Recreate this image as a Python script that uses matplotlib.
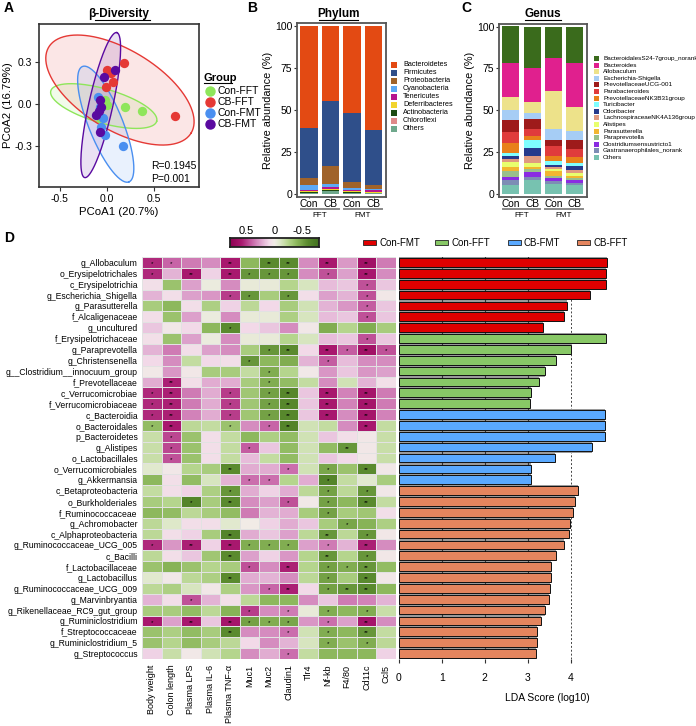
import numpy as np
import matplotlib
matplotlib.use("Agg")
import matplotlib.pyplot as plt
from matplotlib.colors import LinearSegmentedColormap
from matplotlib.patches import Rectangle
from matplotlib.lines import Line2D
import matplotlib.transforms as mtransforms

plt.rcParams['font.family'] = ['Liberation Sans', 'DejaVu Sans']

# ---------------- data ----------------
# A: PCoA
groups = ["Con-FFT", "CB-FFT", "Con-FMT", "CB-FMT"]
group_colors = ["#8EE65A", "#E53935", "#4A8FF0", "#5A0AA0"]
pc1 = [
    [0.37, 0.19, -0.02, -0.07, 0.0],
    [0.72, 0.18, 0.0, 0.07, -0.01, 0.05],
    [0.17, -0.09, -0.06, -0.02, -0.07, -0.04],
    [0.085, -0.03, -0.07, -0.11, -0.075, -0.08, -0.06],
]
pc2 = [
    [-0.05, -0.02, 0.03, -0.09, -0.01],
    [-0.086, 0.29, 0.24, 0.16, 0.12, 0.22],
    [-0.30, 0.05, -0.16, -0.22, -0.02, -0.10],
    [0.24, 0.19, 0.03, -0.08, -0.20, -0.05, -0.02],
]
# ellipse: centre (data), semi axes (px), angle (deg)
ell_cx = [-0.032, 0.14, -0.011, -0.064]
ell_cy = [-0.014, 0.10, -0.143, -0.007]
ell_a = [55, 83, 62, 74]
ell_b = [17, 40, 17, 12]
ell_ang = [-16, -31, -68, 77.5]

# B: phylum (top to bottom of legend)
samples = ["Con", "CB", "Con", "CB"]
phyla = ["Bacteroidetes", "Firmicutes", "Proteobacteria", "Cyanobacteria", "Tenericutes",
         "Deferribacteres", "Actinobacteria", "Chloroflexi", "Others"]
phyla_colors = ["#E34A13", "#2F4F8A", "#A0632A", "#5CA8F5", "#B5158F",
                "#F2D42E", "#1E4A12", "#E08A8A", "#6FA88C"]
phyla_vals = [
    [61.0, 44.9, 52.0, 62.3],
    [29.3, 38.5, 40.6, 32.1],
    [4.5, 10.5, 4.0, 2.5],
    [2.6, 2.2, 0.8, 0.8],
    [0.8, 1.2, 0.9, 0.9],
    [0.8, 0.5, 0.8, 0.6],
    [0.3, 0.4, 0.2, 0.2],
    [0.2, 0.3, 0.2, 0.2],
    [0.5, 1.5, 0.5, 0.4],
]

# C: genus
genera = ["BacteroidalesS24-7group_norank", "Bacteroides", "Allobaculum", "Escherichia-Shigella",
          "PrevotellaceaeUCG-001", "Parabacteroides", "PrevotellaceaeNK3B31group", "Turicibacter",
          "Odoribacter", "LachnospiraceaeNK4A136group", "Alistipes", "Parasutterella",
          "Paraprevotella", "Clostridiumsensustricto1", "Gastranaerophilales_norank", "Others"]
genera_colors = ["#3A6B1C", "#E0208E", "#EDE28A", "#A6CDF5", "#9E1B1B", "#E03C3C", "#E8801A",
                 "#7FFFFF", "#263A8C", "#E09A80", "#E8FF6E", "#F2B630", "#99BF8C", "#8A2BE2",
                 "#7D8DB5", "#77C2B0"]
genera_vals = [
    [21.7, 24.6, 19.1, 21.7],
    [20.2, 20.7, 19.3, 26.5],
    [8.3, 6.5, 22.6, 14.2],
    [5.9, 3.3, 6.5, 5.1],
    [6.9, 5.9, 3.8, 5.7],
    [6.9, 4.6, 5.9, 4.9],
    [5.5, 2.3, 2.9, 3.2],
    [2.0, 4.5, 2.4, 1.8],
    [2.0, 5.0, 1.6, 2.7],
    [1.6, 4.3, 1.1, 1.4],
    [2.8, 2.4, 1.0, 2.0],
    [2.3, 1.1, 3.0, 1.2],
    [3.6, 1.6, 1.4, 1.1],
    [2.3, 2.8, 1.9, 2.0],
    [2.6, 2.3, 1.4, 1.0],
    [5.5, 8.1, 6.1, 5.5],
]

# D: correlation heatmap
taxa = ["g_Allobaculum", "o_Erysipelotrichales", "c_Erysipelotrichia", "g_Escherichia_Shigella",
        "g_Parasutterella", "f_Alcaligenaceae", "g_uncultured", "f_Erysipelotrichaceae",
        "g_Paraprevotella", "g_Christensenella", "g__Clostridium__innocuum_group",
        "f_Prevotellaceae", "c_Verrucomicrobiae", "f_Verrucomicrobiaceae", "c_Bacteroidia",
        "o_Bacteroidales", "p_Bacteroidetes", "g_Alistipes", "o_Lactobacillales",
        "o_Verrucomicrobiales", "g_Akkermansia", "c_Betaproteobacteria", "o_Burkholderiales",
        "f_Ruminococcaceae", "g_Achromobacter", "c_Alphaproteobacteria",
        "g_Ruminococcaceae_UCG_005", "c_Bacilli", "f_Lactobacillaceae", "g_Lactobacillus",
        "g_Ruminococcaceae_UCG_009", "g_Marvinbryantia", "g_Rikenellaceae_RC9_gut_group",
        "g_Ruminiclostridium", "f_Streptococcaceae", "g_Ruminiclostridium_5", "g_Streptococcus"]
factors = ["Body weight", "Colon length", "Plasma LPS", "Plasma IL-6", "Plasma TNF-α", "Muc1",
           "Muc2", "Claudin1", "Tlr4", "Nf-kb", "F4/80", "Cd11c", "Ccl5"]
corr = [
    [0.55, 0.4, 0.35, 0.3, 0.6, -0.4, -0.6, -0.6, 0.3, 0.6, 0.27, 0.65, 0.35],
    [0.55, 0.2, 0.6, 0.12, 0.6, -0.55, -0.55, -0.55, 0.3, 0.45, 0.25, 0.6, 0.3],
    [0.07, -0.35, 0.25, -0.03, 0.3, -0.05, -0.05, -0.25, -0.12, 0.18, 0.15, 0.45, 0.15],
    [0.2, 0.08, 0.25, 0.28, 0.5, -0.55, -0.3, -0.55, 0.08, 0.25, 0.2, 0.45, 0.03],
    [-0.3, -0.4, 0.08, -0.28, 0.12, -0.22, 0.1, -0.3, -0.15, 0.2, 0.28, 0.42, 0.15],
    [0.08, -0.35, 0.25, -0.03, 0.3, -0.05, -0.05, -0.28, -0.12, 0.18, 0.15, 0.45, 0.15],
    [0.15, 0.03, 0.1, -0.4, -0.6, 0.1, 0.15, 0.3, 0.03, -0.45, -0.25, -0.45, -0.3],
    [0.07, -0.35, 0.25, -0.03, 0.3, -0.05, -0.05, -0.25, -0.12, 0.18, 0.15, 0.45, 0.15],
    [0.2, 0.35, 0.08, 0.25, 0.3, -0.3, -0.55, -0.6, 0.1, 0.6, 0.42, 0.65, 0.45],
    [0.1, 0.3, -0.2, 0.1, 0.08, -0.55, -0.4, -0.45, 0.2, 0.42, 0.18, 0.3, 0.3],
    [0.02, 0.28, 0.03, -0.3, -0.3, -0.2, -0.45, -0.25, 0.02, 0.28, 0.15, 0.28, 0.25],
    [0.22, 0.58, 0.08, 0.22, 0.22, -0.3, -0.45, -0.38, -0.2, 0.3, -0.15, 0.2, 0.07],
    [0.55, 0.58, 0.35, 0.22, 0.5, -0.33, -0.5, -0.62, 0.15, 0.6, 0.33, 0.62, 0.35],
    [0.55, 0.58, 0.35, 0.22, 0.5, -0.33, -0.5, -0.62, 0.15, 0.6, 0.33, 0.62, 0.35],
    [0.55, 0.58, 0.33, 0.22, 0.5, -0.33, -0.5, -0.62, 0.15, 0.6, 0.3, 0.62, 0.33],
    [-0.38, 0.6, -0.22, -0.2, -0.35, 0.3, 0.4, -0.65, -0.15, -0.2, 0.3, 0.6, -0.2],
    [-0.18, 0.48, -0.35, 0.08, -0.2, -0.4, -0.28, -0.38, -0.15, 0.15, 0.08, 0.03, -0.18],
    [-0.18, 0.48, -0.35, 0.08, -0.2, 0.42, 0.15, -0.38, -0.15, -0.38, -0.55, 0.03, -0.18],
    [-0.18, 0.45, -0.35, 0.08, -0.2, 0.18, -0.2, -0.38, -0.15, 0.15, 0.1, 0.03, -0.18],
    [-0.08, 0.03, -0.25, -0.3, -0.6, 0.22, 0.22, 0.38, -0.15, -0.48, -0.35, -0.6, 0.03],
    [-0.4, 0.07, -0.38, -0.12, 0.2, 0.38, 0.38, -0.25, 0.22, -0.65, -0.2, -0.08, -0.3],
    [-0.2, 0.08, 0.12, -0.28, -0.55, 0.22, 0.12, 0.22, -0.22, -0.5, -0.22, -0.55, 0.03],
    [-0.3, -0.25, -0.65, -0.3, -0.6, 0.3, 0.25, 0.45, 0.02, -0.5, -0.4, -0.6, -0.2],
    [-0.4, -0.38, -0.22, -0.3, -0.38, 0.35, 0.2, 0.22, -0.3, -0.5, -0.3, -0.33, 0.08],
    [-0.22, -0.1, 0.08, 0.08, -0.08, 0.0, 0.12, 0.22, 0.15, -0.3, -0.48, -0.42, -0.28],
    [-0.22, 0.08, 0.12, -0.3, -0.65, 0.22, 0.15, 0.25, -0.22, -0.55, -0.22, -0.55, 0.03],
    [0.55, 0.28, 0.58, 0.12, 0.6, -0.45, -0.45, -0.45, 0.25, 0.35, 0.2, 0.58, 0.3],
    [-0.22, 0.08, 0.15, -0.33, -0.6, 0.25, 0.12, 0.28, -0.25, -0.55, -0.25, -0.55, 0.03],
    [-0.35, -0.42, -0.35, -0.25, -0.3, 0.45, 0.3, 0.58, -0.25, -0.5, -0.45, -0.55, -0.38],
    [-0.08, 0.02, -0.22, -0.28, -0.6, 0.22, 0.2, 0.3, -0.22, -0.5, -0.3, -0.6, 0.03],
    [-0.22, -0.28, -0.12, 0.03, -0.28, 0.28, 0.4, 0.58, 0.1, -0.5, -0.55, -0.6, -0.4],
    [0.2, 0.08, 0.45, 0.2, 0.07, -0.22, -0.4, -0.4, 0.3, 0.15, 0.35, 0.33, 0.2],
    [-0.3, -0.3, -0.38, -0.22, -0.42, 0.5, 0.3, 0.35, -0.05, -0.45, -0.4, -0.45, -0.18],
    [0.6, 0.25, 0.6, 0.15, 0.62, -0.5, -0.45, -0.48, 0.28, 0.38, 0.25, 0.62, 0.3],
    [-0.35, -0.28, -0.38, -0.3, -0.6, 0.3, 0.3, 0.38, -0.15, -0.45, -0.4, -0.55, -0.2],
    [-0.35, -0.25, -0.38, -0.3, -0.22, 0.1, 0.3, 0.2, -0.12, -0.45, -0.35, -0.45, -0.22],
    [0.12, -0.18, 0.02, -0.15, -0.25, 0.3, 0.22, 0.38, -0.2, -0.4, -0.4, -0.4, 0.12],
]
# significance: 0 none, 1 "*", 2 "**"
signif = ["1100202202020", "1020211101020", "0000000000010", "0000110100010",
          "0000000000010", "0000000000010", "0000100000000", "0000000000010",
          "0000001202121", "0000010001000", "0000001000000", "0200001000000",
          "1200101202020", "1200101202020", "1200101202020", "1200101200020",
          "0100000000000", "0100010000200", "0100000000000", "0000200101020",
          "0000011001000", "0000100001010", "0010200101020", "0000000001000",
          "0000000000100", "0000200002010", "1020211101020", "0000200002010",
          "0000010201120", "0000200001020", "0000001201220", "0010000000000",
          "0000010101010", "1020211101020", "0000200101020", "0000000001010",
          "0000000100000"]

# LDA
lda_groups = ["Con-FMT", "Con-FFT", "CB-FMT", "CB-FFT"]
lda_colors = ["#E00000", "#88C866", "#5AA9FF", "#E5855E"]
lda_group = [0] * 7 + [1] * 7 + [2] * 7 + [3] * 16
lda_score = [4.84, 4.83, 4.83, 4.44, 3.91, 3.84, 3.36,
             4.83, 4.01, 3.66, 3.41, 3.26, 3.08, 3.05,
             4.80, 4.80, 4.80, 4.50, 3.64, 3.08, 3.07,
             4.16, 4.10, 4.06, 3.98, 3.97, 3.85, 3.66, 3.55, 3.55, 3.53, 3.50,
             3.41, 3.31, 3.22, 3.21, 3.20]

# ---------------- figure ----------------
W, H = 696, 726
fig = plt.figure(figsize=(W / 100, H / 100), dpi=100)


def px_axes(l, t, r, b):
    return fig.add_axes([l / W, 1 - b / H, (r - l) / W, (b - t) / H])


def ftext(x, y, s, **kw):
    fig.text(x / W, 1 - y / H, s, **kw)


def fline(x0, x1, y, **kw):
    fig.add_artist(Line2D([x0 / W, x1 / W], [1 - y / H, 1 - y / H], **kw))


def frect(x, y, w, h, **kw):
    fig.add_artist(Rectangle((x / W, 1 - (y + h) / H), w / W, h / H, **kw))


def frame(ax, color="#333333", lw=1.2):
    for s in ax.spines.values():
        s.set_color(color)
        s.set_linewidth(lw)


# ---- Panel A ----
axA = px_axes(39, 24, 199, 187)
t = np.linspace(0, 2 * np.pi, 200)
for k in range(4):
    th = np.deg2rad(ell_ang[k])
    ex = ell_cx[k] + (ell_a[k] * np.cos(th) * np.cos(t) - ell_b[k] * np.sin(th) * np.sin(t)) / 94
    ey = ell_cy[k] + (ell_a[k] * np.sin(th) * np.cos(t) + ell_b[k] * np.cos(th) * np.sin(t)) / 140
    axA.fill(ex, ey, color=group_colors[k], alpha=0.12, lw=0)
    axA.plot(ex, ey, color=group_colors[k], lw=1.0)
for k in range(4):
    axA.scatter(pc1[k], pc2[k], s=45, color=group_colors[k], zorder=3, lw=0)
axA.set_xlim(-0.72, 0.98)
axA.set_ylim(-0.59, 0.57)
axA.set_xticks([-0.5, 0, 0.5], ["-0.5", "0.0", "0.5"])
axA.set_yticks([-0.3, 0, 0.3], ["-0.3", "0.0", "0.3"])
axA.tick_params(labelsize=7.5, length=3, color="#333333", pad=2)
axA.set_xlabel("PCoA1 (20.7%)", fontsize=8.2, labelpad=2)
axA.set_ylabel("PCoA2 (16.79%)", fontsize=8.2)
axA.yaxis.set_label_coords(-0.165, 0.5)
frame(axA)
axA.text(0.47, -0.44, "R=0.1945", fontsize=7.5, va="center")
axA.text(0.47, -0.53, "P=0.001", fontsize=7.5, va="center")
ftext(119, 14, "β-Diversity", fontsize=8.5, fontweight="bold", ha="center", va="center")
fline(95, 150, 19.5, color="black", lw=0.8)
ftext(204, 78, "Group", fontsize=8, fontweight="bold", va="center")
fline(204, 232, 83, color="black", lw=0.8)
for k, g in enumerate(groups):
    yy = 91 + k * 11
    fig.add_artist(Line2D([210 / W], [1 - yy / H], marker="o", ms=6.5, color=group_colors[k], lw=0))
    ftext(217, yy, g, fontsize=7.5, va="center")


# ---- Panels B and C ----
def stacked(ax, vals, colors):
    x = np.arange(1, 5)
    bottom = np.zeros(4)
    for v, c in zip(vals[::-1], colors[::-1]):
        ax.bar(x, v, bottom=bottom, width=0.8, color=c, lw=0)
        bottom += np.array(v)
    ax.set_xlim(0.44, 4.58)
    ax.set_ylim(-1.8, 101.5)
    ax.set_yticks([0, 25, 50, 75, 100])
    ax.set_xticks(x, samples)
    ax.tick_params(axis="y", labelsize=7.5, length=2.5, color="#333333", pad=1)
    ax.tick_params(axis="x", labelsize=7.3, length=1, color="#333333", pad=0.5)
    ax.set_ylabel("Relative abundance (%)", fontsize=7.8, labelpad=1)
    frame(ax, "#555555", 1.3)
    tr = mtransforms.blended_transform_factory(ax.transData, ax.transAxes)
    for x0, x1, name in [(0.62, 2.38, "FFT"), (2.62, 4.38, "FMT")]:
        ax.plot([x0, x1], [-0.068, -0.068], color="#888888", lw=1.4, transform=tr, clip_on=False)
        ax.text((x0 + x1) / 2, -0.105, name, fontsize=5.8, ha="center", va="center", transform=tr)


axB = px_axes(297, 23, 386, 197)
stacked(axB, phyla_vals, phyla_colors)
ftext(338, 14, "Phylum", fontsize=8.5, fontweight="bold", ha="center", va="center")
fline(319, 358, 19.5, color="black", lw=0.8)
for k, name in enumerate(phyla):
    yy = 65 + k * 8.0
    frect(391, yy - 2.7, 5.5, 5.5, color=phyla_colors[k], lw=0)
    ftext(403, yy, name, fontsize=5.2, va="center")

axC = px_axes(499, 24, 587, 197)
stacked(axC, genera_vals, genera_colors)
ftext(543, 14, "Genus", fontsize=8.5, fontweight="bold", ha="center", va="center")
fline(525, 561, 19.5, color="black", lw=0.8)
for k, name in enumerate(genera):
    yy = 58.5 + k * 6.6
    frect(594, yy - 2.5, 5, 5, color=genera_colors[k], lw=0)
    ftext(603, yy, name, fontsize=4.6, va="center")

# ---- Panel D heatmap ----
cmap = LinearSegmentedColormap.from_list("corr", [
    (0.0, "#40701E"), (0.125, "#5A8A2E"), (0.25, "#8DB85C"), (0.344, "#B5D58C"),
    (0.4375, "#DDE8C8"), (0.5, "#F1ECE6"), (0.5625, "#F2DAE9"), (0.656, "#DDA2CC"),
    (0.75, "#C866A8"), (0.875, "#A8186E"), (1.0, "#8E0152")])
axH = px_axes(142, 257, 396, 659)
axH.pcolormesh(np.array(corr), cmap=cmap, vmin=-0.8, vmax=0.8,
               edgecolors="#e2e2e2", linewidth=0.6)
axH.set_xlim(0, len(factors))
axH.set_ylim(len(taxa), 0)
axH.set_yticks(np.arange(len(taxa)) + 0.5, taxa)
axH.set_xticks(np.arange(len(factors)) + 0.5, factors, rotation=90)
axH.tick_params(length=0, labelsize=6.2, pad=3)
axH.tick_params(axis="x", labelsize=6.5, pad=4)
for s in axH.spines.values():
    s.set_visible(False)
for i, row in enumerate(signif):
    for j, c in enumerate(row):
        if c != "0":
            axH.text(j + 0.5, i + 0.6, "*" * int(c), fontsize=4.5, ha="center", va="center")

# colorbar
axCb = px_axes(230, 238, 319, 247)
xs = np.linspace(-0.8, 0.8, 257)
axCb.pcolormesh(xs, [0, 1], ((xs[:-1] + xs[1:]) / 2)[None, :], cmap=cmap, vmin=-0.8, vmax=0.8)
axCb.set_xlim(0.8, -0.8)
axCb.set_yticks([])
axCb.xaxis.tick_top()
axCb.set_xticks([0.5, 0, -0.5], ["0.5", "0", "-0.5"])
axCb.tick_params(length=0, labelsize=8, pad=1.5)
frame(axCb, "#222222", 1.3)

# ---- LDA ----
axL = px_axes(398, 257, 696, 659)
yl = np.arange(len(lda_score)) + 0.5
bar_cols = [lda_colors[g] for g in lda_group]
axL.barh(yl, lda_score, height=1.0, color="#9a9a9a", lw=0, zorder=1)
for gx in [1, 2, 3]:
    axL.axvline(gx, color="#333333", lw=0.8, zorder=2)
axL.axvline(4, color="#444444", lw=0.7, ls=(0, (2, 2)), zorder=0)
axL.barh(yl, lda_score, height=0.8, color=bar_cols, edgecolor="#111111", lw=0.7, zorder=3)
axL.set_ylim(len(lda_score), 0)
axL.set_xlim(-0.023, 6.92)
axL.set_yticks([])
axL.set_xticks([0, 1, 2, 3, 4])
axL.tick_params(labelsize=7.5, length=3, color="#333333", pad=7)
axL.set_xlabel("LDA Score (log10)", fontsize=7.5, labelpad=7)
for s in axL.spines.values():
    s.set_visible(False)

leg_x = [363, 435, 508, 577]
for k, name in enumerate(lda_groups):
    frect(leg_x[k], 240, 12.5, 5, facecolor=lda_colors[k], edgecolor="#222222", lw=0.6)
    ftext(leg_x[k] + 16, 242.5, name, fontsize=7, va="center")

# panel letters
for lab, x, y in [("A", 4, 8), ("B", 247, 8), ("C", 461, 8), ("D", 4, 238)]:
    ftext(x, y, lab, fontsize=10, fontweight="bold", va="center")

fig.savefig("out.png", dpi=100)
